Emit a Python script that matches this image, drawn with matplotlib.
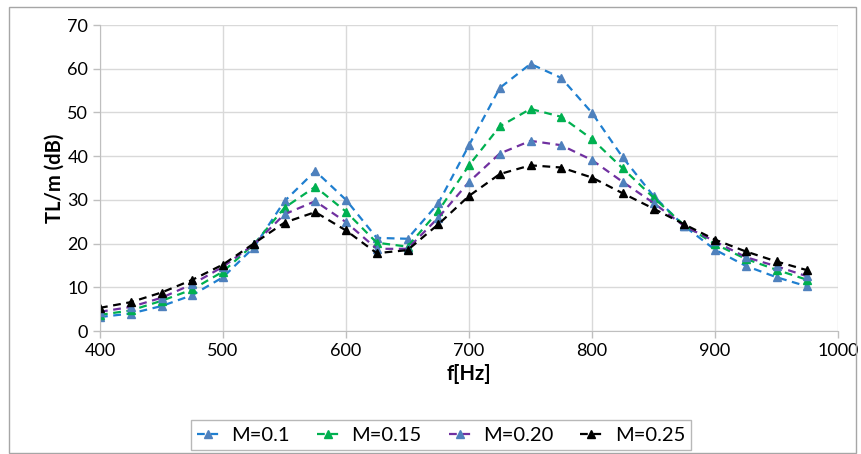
import matplotlib
matplotlib.use("Agg")
import matplotlib.pyplot as plt
from matplotlib.patches import Rectangle

plt.rcParams['font.family'] = ['Lato', 'DejaVu Sans']

freq = [400, 425, 450, 475, 500, 525, 550, 575, 600, 625, 650, 675,
        700, 725, 750, 775, 800, 825, 850, 875, 900, 925, 950, 975]
tl_m010 = [3.2, 4.0, 5.7, 8.2, 12.3, 19.1, 29.7, 36.6, 30.0, 21.3, 21.1, 29.2,
           42.5, 55.6, 61.1, 57.9, 49.9, 39.7, 30.9, 24.0, 18.6, 14.9, 12.3, 10.2]
tl_m015 = [3.7, 4.7, 6.9, 9.5, 13.6, 19.8, 28.2, 33.0, 27.3, 20.2, 19.3, 27.4,
           37.9, 46.8, 50.8, 49.0, 43.9, 37.2, 30.5, 24.2, 19.9, 16.5, 14.0, 11.7]
tl_m020 = [4.4, 5.5, 7.6, 10.7, 14.7, 19.8, 26.7, 29.7, 24.9, 18.8, 18.8, 25.9,
           34.1, 40.6, 43.5, 42.5, 39.1, 34.1, 29.3, 24.0, 20.5, 16.9, 14.8, 12.5]
tl_m025 = [5.3, 6.6, 8.8, 11.7, 15.2, 20.0, 24.8, 27.2, 23.0, 17.8, 18.5, 24.4,
           30.9, 35.9, 37.9, 37.4, 35.1, 31.5, 28.0, 24.4, 20.9, 18.2, 15.9, 13.9]
labels = ['M=0.1', 'M=0.15', 'M=0.20', 'M=0.25']
line_colors = ['#1F7FD0', '#00B050', '#7030A0', '#000000']
marker_colors = ['#4F81BD', '#00B050', '#4F81BD', '#000000']

fig = plt.figure(figsize=(8.62, 4.54), dpi=100)
ax = fig.add_axes([100 / 862, 1 - 331 / 454, 738 / 862, 306 / 454])

series = [tl_m010, tl_m015, tl_m020, tl_m025]
for vals, lab, lc, mc in zip(series, labels, line_colors, marker_colors):
    ax.plot(freq, vals, linestyle=(0, (3.5, 2.5)), color=lc, linewidth=1.6,
            marker='^', markersize=6, markerfacecolor=mc, markeredgecolor=mc,
            label=lab)

ax.set_xlim(400, 1000)
ax.set_ylim(0, 70)
ax.set_xticks(range(400, 1001, 100))
ax.set_yticks(range(0, 71, 10))
ax.grid(True, color='#D9D9D9', linewidth=1)
ax.set_axisbelow(True)
for s in ['top', 'right']:
    ax.spines[s].set_visible(False)
for s in ['left', 'bottom']:
    ax.spines[s].set_color('#BFBFBF')
ax.tick_params(axis='both', colors='#BFBFBF', labelcolor='black', labelsize=13,
               length=5, width=1)
ax.set_xlabel('f[Hz]', fontsize=14.5, fontweight='bold', labelpad=4)
ax.set_ylabel('TL/m (dB)', fontsize=14.5, fontweight='bold', labelpad=2)

leg = fig.legend(loc='center', bbox_to_anchor=(441 / 862, 1 - 435 / 454), ncol=4,
                 fontsize=14.5, frameon=True, fancybox=False, handlelength=1.1,
                 columnspacing=1.35, handletextpad=0.6, borderpad=0.3)
leg.get_frame().set_edgecolor('#A6A6A6')
leg.get_frame().set_linewidth(1)

fig.patches.append(Rectangle((9 / 862, 1 / 454), 847 / 862, 446 / 454,
                             transform=fig.transFigure, fill=False,
                             edgecolor='#A6A6A6', linewidth=1))

fig.savefig('out.png', dpi=100)
